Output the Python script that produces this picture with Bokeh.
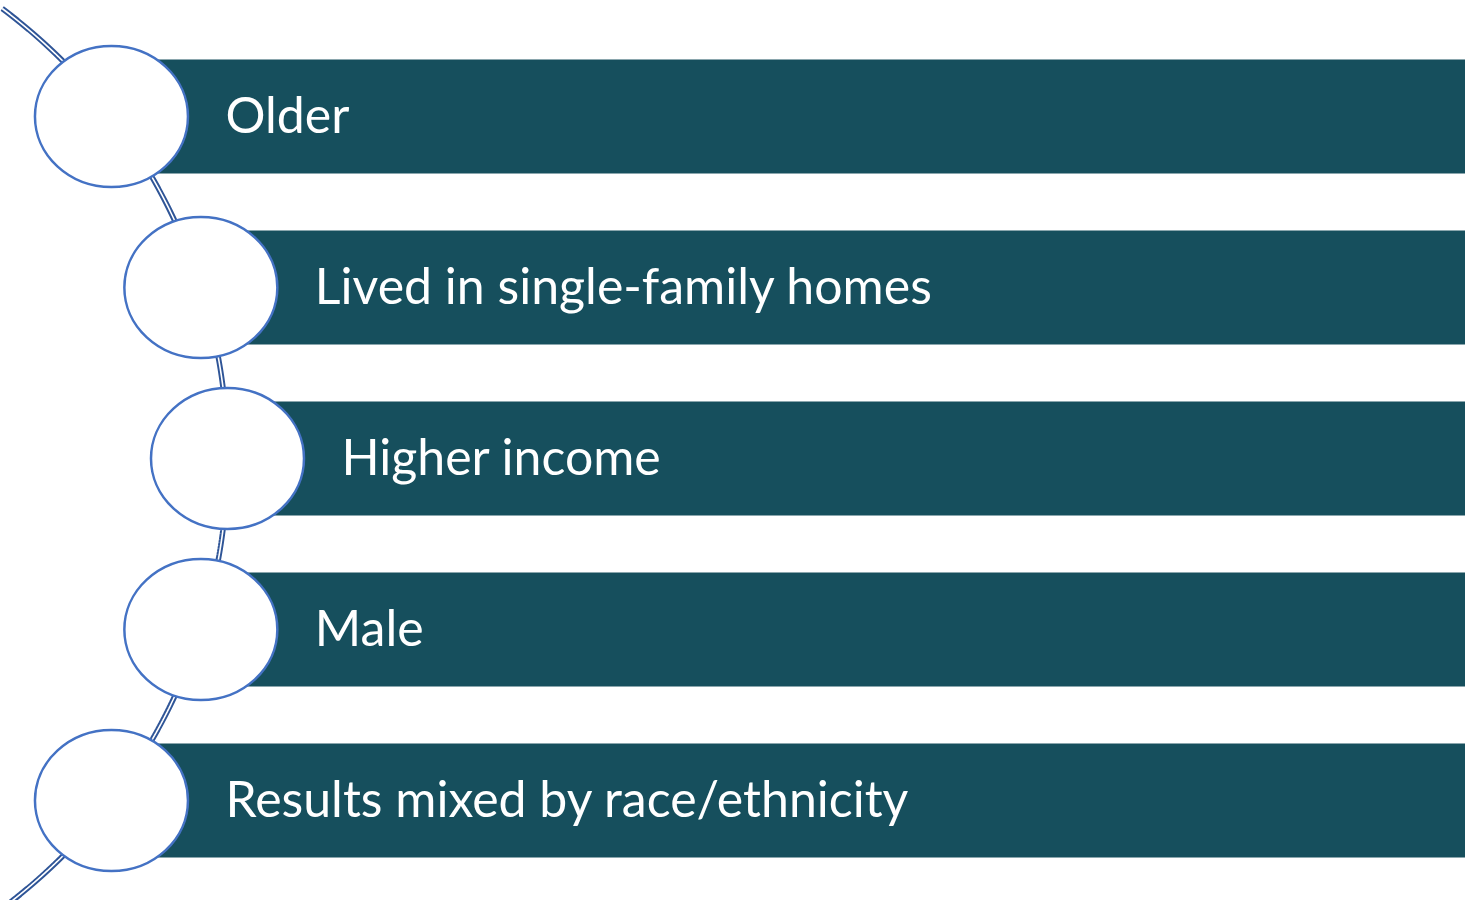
import numpy as np
from bokeh.plotting import figure
from bokeh.models import Range1d, ColumnDataSource
from bokeh.core.properties import value
from bokeh.embed import file_html
from bokeh.resources import INLINE

# ---- content ----
labels = ["Older", "Lived in single-family homes", "Higher income", "Male",
          "Results mixed by race/ethnicity"]

# ---- styling / layout ----
BAR_COLOR = "#164F5D"
CIRCLE_LINE = "#4472C4"
ARC_COLOR = "#2F5597"
W, H = 1465, 900

p = figure(width=W, height=H, output_backend="svg", toolbar_location=None,
           x_range=Range1d(0, W), y_range=Range1d(H, 0),
           min_border=0, outline_line_color=None)
p.axis.visible = False
p.grid.visible = False
p.background_fill_color = "white"
p.border_fill_color = "white"

n = len(labels)
row_step = 171
y0 = 116
ys = np.array([y0 + row_step * i for i in range(n)], dtype=float)
y_mid = ys[n // 2]

# big arc passing through circle centers
arc_cx = -335.0
arc_R = 562.0
xs = arc_cx + np.sqrt(arc_R ** 2 - (ys - y_mid) ** 2)

ay = np.linspace(8, 906, 300)
ax = arc_cx + np.sqrt(np.clip(arc_R ** 2 - (ay - y_mid) ** 2, 0, None))
p.line(ax, ay, line_color=ARC_COLOR, line_width=5.5)
p.line(ax, ay, line_color="white", line_width=1.6)

half_h = 57
src = ColumnDataSource(dict(
    left=xs, right=[W + 10] * n, top=ys - half_h, bottom=ys + half_h,
    x=xs, y=ys, tx=xs + 114, ty=ys - 3, label=labels))

p.quad(left="left", right="right", top="top", bottom="bottom", source=src,
       fill_color=BAR_COLOR, line_color=None)
p.ellipse(x="x", y="y", width=153, height=141, source=src,
          fill_color="white", line_color=CIRCLE_LINE, line_width=2.5)
p.text(x="tx", y="ty", text="label", source=src, text_color="white",
       text_font=value("Lato"), text_font_size="50px",
       text_baseline="middle", text_align="left")

open("out.html", "w").write(file_html(p, INLINE))
